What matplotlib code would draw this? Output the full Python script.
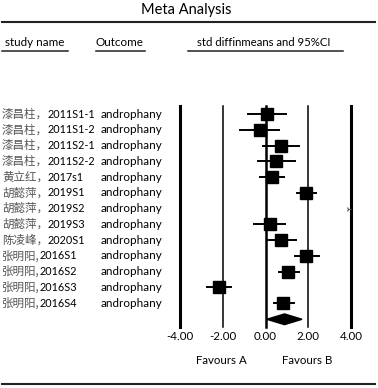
import matplotlib
matplotlib.use('Agg')
import matplotlib.pyplot as plt
import numpy as np
from matplotlib.patches import Polygon
from matplotlib.transforms import blended_transform_factory

# study rows
names_cn = ['漆昌柱，', '漆昌柱，', '漆昌柱，', '漆昌柱，', '黄立红，', '胡懿萍，', '胡懿萍，',
            '胡懿萍，', '陈凌峰，', '张明阳,', '张明阳,', '张明阳,', '张明阳,']
names_en = ['2011S1-1', '2011S1-2', '2011S2-1', '2011S2-2', '2017s1', '2019S1', '2019S2',
            '2019S3', '2020S1', '2016S1', '2016S2', '2016S3', '2016S4']
outcome = 'androphany'
effect = [0.05, -0.28, 0.73, 0.50, 0.30, 1.90, 3.85, 0.19, 0.73, 1.90, 1.04, -2.18, 0.84]
lower = [-0.84, -1.17, -0.13, -0.36, -0.25, 1.46, np.nan, -0.56, 0.06, 1.40, 0.62, -2.74, 0.42]
upper = [0.98, 0.65, 1.56, 1.39, 0.86, 2.37, np.nan, 0.93, 1.43, 2.49, 1.56, -1.60, 1.31]
pooled, pooled_lo, pooled_hi = 0.89, 0.06, 1.71

ticks = [-4, -2, 0, 2, 4]
tick_labels = ['-4.00', '-2.00', '0.00', '2.00', '4.00']

LAT = 'Lato'
CJK = ['Noto Sans CJK SC', 'DejaVu Sans']

fig = plt.figure(figsize=(3.78, 3.88), dpi=100)
bg = fig.add_axes([0, 0, 1, 1])
bg.set_xlim(0, 378)
bg.set_ylim(388, 0)
bg.axis('off')

ax = fig.add_axes([180 / 378, 61 / 388, 171 / 378, 221 / 388])
ax.set_xlim(-4, 4)
ax.set_ylim(13.52, -0.508)
ax.axis('off')

# header
bg.text(186, 10, 'Meta Analysis', ha='center', va='center', fontsize=10.5, family=LAT)
bg.plot([2, 375], [22, 22], color='#222', lw=1.5)
bg.text(5, 43, 'study name', ha='left', va='center', fontsize=8.4, family=LAT)
bg.plot([2, 68], [51, 51], color='#222', lw=1.1)
bg.text(96, 43, 'Outcome', ha='left', va='center', fontsize=8.4, family=LAT)
bg.plot([96, 145], [51, 51], color='#222', lw=1.1)
bg.text(197, 43, 'std diffinmeans and 95%CI', ha='left', va='center', fontsize=8.2, family=LAT)
bg.plot([188, 343], [51, 51], color='#222', lw=1.1)
bg.plot([2, 375], [384, 384], color='#222', lw=1.5)

# vertical reference lines
widths = {-4: 2.2, -2: 1.1, 0: 1.8, 2: 1.1, 4: 2.2}
for t in ticks:
    ax.axvline(t, color='black', lw=widths[t], clip_on=False)

# row labels
tr = blended_transform_factory(bg.transData, ax.transData)
for i in range(len(names_cn)):
    cn = ax.text(2, i, names_cn[i], transform=tr, ha='left', va='center',
                 fontsize=8.3, family=CJK, color='#555555')
    ax.annotate(names_en[i], xy=(1, 0.5), xycoords=cn, ha='left', va='center',
                fontsize=7.8, family=LAT, color='black')
    ax.text(101, i, outcome, transform=tr, ha='left', va='center',
            fontsize=8.4, family=LAT, color='black')

# study estimates
for i in range(len(effect)):
    if np.isnan(lower[i]):
        ax.plot(effect[i], i, marker='4', ms=4, color='#555', mew=0.8, clip_on=False)
        continue
    ax.plot([lower[i], upper[i]], [i, i], color='black', lw=1.4, clip_on=False)
    ax.plot(effect[i], i, marker='s', ms=8.8, color='black', clip_on=False)

# pooled diamond
yd = len(effect) + 0.03
dh = 0.34
ax.add_patch(Polygon([[pooled_lo, yd], [pooled, yd - dh], [pooled_hi, yd], [pooled, yd + dh]],
                     closed=True, color='black'))

# tick labels and favours
trx = blended_transform_factory(ax.transData, bg.transData)
for t, lab in zip(ticks, tick_labels):
    bg.text(t, 337, lab, transform=trx, ha='center', va='center', fontsize=8.3, family=LAT)
bg.text(-2.05, 360, 'Favours A', transform=trx, ha='center', va='center', fontsize=8.3, family=LAT)
bg.text(1.95, 360, 'Favours B', transform=trx, ha='center', va='center', fontsize=8.3, family=LAT)

fig.savefig('out.png', dpi=100)
